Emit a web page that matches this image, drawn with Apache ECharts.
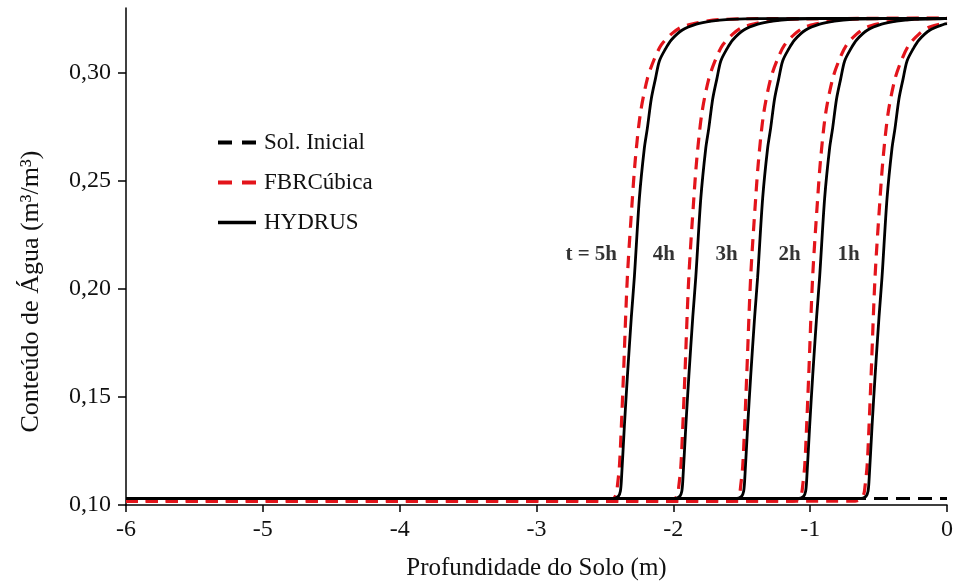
<!DOCTYPE html>
<html>
<head>
<meta charset="utf-8">
<script src="https://cdn.jsdelivr.net/npm/echarts@6/dist/echarts.min.js"></script>
<style>
html,body{margin:0;padding:0;background:#fff;}
#chart{width:956px;height:586px;}
</style>
</head>
<body>
<div id="chart"></div>
<script>
// ---- data ----
const xTicks = [-6, -5, -4, -3, -2, -1, 0];
const yTicks = [0.10, 0.15, 0.20, 0.25, 0.30];

const solInicialX = [-6, 0];
const solInicialY = [0.103, 0.103];

// HYDRUS (solid black)
const hydrusY = [0.103, 0.103, 0.1032, 0.1041, 0.1064, 0.1110, 0.1363, 0.1593, 0.1869, 0.2053, 0.2421, 0.2651, 0.2743, 0.2880, 0.2972, 0.3055, 0.3110, 0.3152, 0.3198, 0.3225, 0.3239, 0.3247, 0.3251, 0.3252];
const hydrus5hX = [-6, -2.453, -2.423, -2.401, -2.387, -2.380, -2.358, -2.336, -2.307, -2.285, -2.248, -2.212, -2.190, -2.161, -2.131, -2.102, -2.058, -2.015, -1.934, -1.832, -1.723, -1.591, -1.372, 0];
const hydrus4hX = [-6, -2.004, -1.974, -1.952, -1.938, -1.931, -1.909, -1.887, -1.858, -1.836, -1.799, -1.763, -1.741, -1.712, -1.682, -1.653, -1.609, -1.566, -1.485, -1.383, -1.274, -1.142, -0.923, 0];
const hydrus3hX = [-6, -1.552, -1.522, -1.500, -1.486, -1.479, -1.457, -1.435, -1.406, -1.384, -1.347, -1.311, -1.289, -1.260, -1.230, -1.201, -1.157, -1.114, -1.033, -0.931, -0.822, -0.690, -0.471, 0];
const hydrus2hX = [-6, -1.099, -1.069, -1.047, -1.033, -1.026, -1.004, -0.982, -0.953, -0.931, -0.894, -0.858, -0.836, -0.807, -0.777, -0.748, -0.704, -0.661, -0.580, -0.478, -0.369, -0.237, -0.018, 0];
const hydrus1hX = [-6, -0.643, -0.613, -0.591, -0.577, -0.570, -0.548, -0.526, -0.497, -0.475, -0.438, -0.402, -0.380, -0.351, -0.321, -0.292, -0.248, -0.205, -0.124, -0.022, 0];
const hydrus1hY = [0.103, 0.103, 0.1032, 0.1041, 0.1064, 0.1110, 0.1363, 0.1593, 0.1869, 0.2053, 0.2421, 0.2651, 0.2743, 0.2880, 0.2972, 0.3055, 0.3110, 0.3152, 0.3198, 0.3225, 0.3228];

// FBRCúbica (dashed red)
const fbrY = [0.1018, 0.1018, 0.1023, 0.1034, 0.1055, 0.1087, 0.1179, 0.1363, 0.1593, 0.2053, 0.2421, 0.2605, 0.2811, 0.2972, 0.3064, 0.3129, 0.3179, 0.3211, 0.3230, 0.3239, 0.3246, 0.3250, 0.3252];
const fbr5hX = [-6, -2.482, -2.453, -2.431, -2.416, -2.409, -2.394, -2.380, -2.365, -2.336, -2.299, -2.277, -2.241, -2.190, -2.139, -2.088, -2.015, -1.942, -1.832, -1.759, -1.664, -1.518, 0];
const fbr4hX = [-6, -2.033, -2.004, -1.982, -1.967, -1.960, -1.945, -1.931, -1.916, -1.887, -1.850, -1.828, -1.792, -1.741, -1.690, -1.639, -1.566, -1.493, -1.383, -1.310, -1.215, -1.069, 0];
const fbr3hX = [-6, -1.581, -1.552, -1.530, -1.515, -1.508, -1.493, -1.479, -1.464, -1.435, -1.398, -1.376, -1.340, -1.289, -1.238, -1.187, -1.114, -1.041, -0.931, -0.858, -0.763, -0.617, 0];
const fbr2hX = [-6, -1.128, -1.099, -1.077, -1.062, -1.055, -1.040, -1.026, -1.011, -0.982, -0.945, -0.923, -0.887, -0.836, -0.785, -0.734, -0.661, -0.588, -0.478, -0.405, -0.310, -0.164, 0];
const fbr1hX = [-6, -0.672, -0.643, -0.621, -0.606, -0.599, -0.584, -0.570, -0.555, -0.526, -0.489, -0.467, -0.431, -0.380, -0.329, -0.278, -0.205, -0.132, -0.022, 0];
const fbr1hY = [0.1018, 0.1018, 0.1023, 0.1034, 0.1055, 0.1087, 0.1179, 0.1363, 0.1593, 0.2053, 0.2421, 0.2605, 0.2811, 0.2972, 0.3064, 0.3129, 0.3179, 0.3211, 0.3230, 0.3236];

// time annotations
const timeLabels = ['t = 5h', '4h', '3h', '2h', '1h'];
const timeLabelX = [-2.60, -2.07, -1.61, -1.15, -0.72];
const timeLabelY = [0.216, 0.216, 0.216, 0.216, 0.216];

// ---- build ----
const zip = (xs, ys) => xs.map((x, i) => [x, ys[i]]);
const serif = '"Liberation Serif", "Times New Roman", serif';
const textColor = '#111';

const hydrusSets = [
  [hydrus5hX, hydrusY], [hydrus4hX, hydrusY], [hydrus3hX, hydrusY],
  [hydrus2hX, hydrusY], [hydrus1hX, hydrus1hY]
];
const fbrSets = [
  [fbr5hX, fbrY], [fbr4hX, fbrY], [fbr3hX, fbrY],
  [fbr2hX, fbrY], [fbr1hX, fbr1hY]
];

const series = [];
series.push({
  name: 'Sol. Inicial', type: 'line', data: zip(solInicialX, solInicialY),
  symbol: 'none', z: 1, itemStyle: { color: '#000' },
  lineStyle: { color: '#000', width: 3.2, type: [14, 8] }
});
fbrSets.forEach(s => series.push({
  name: 'FBRCúbica', type: 'line', data: zip(s[0], s[1]),
  symbol: 'none', smooth: 0.3, z: 2, itemStyle: { color: '#e3141b' },
  lineStyle: { color: '#e3141b', width: 3.2, type: [12, 8] }
}));
hydrusSets.forEach(s => series.push({
  name: 'HYDRUS', type: 'line', data: zip(s[0], s[1]),
  symbol: 'none', smooth: 0.3, z: 3, itemStyle: { color: '#000' },
  lineStyle: { color: '#000', width: 2.8, type: 'solid' }
}));
series.push({
  name: 'labels', type: 'scatter', symbolSize: 0, z: 5,
  data: timeLabels.map((t, i) => ({ value: [timeLabelX[i], timeLabelY[i]], name: t })),
  label: {
    show: true, position: 'inside', formatter: p => p.name,
    fontFamily: serif, fontWeight: 'bold', fontSize: 21, color: '#000'
  },
  silent: true
});

const chart = echarts.init(document.getElementById('chart'), null, { renderer: 'canvas' });
chart.setOption({
  animation: false,
  backgroundColor: '#fff',
  grid: { left: 126, right: 8, top: 8, bottom: 77 },
  legend: {
    data: [
      { name: 'Sol. Inicial' },
      { name: 'FBRCúbica' },
      { name: 'HYDRUS', lineStyle: { type: 'solid', width: 3.5 } }
    ],
    orient: 'vertical', left: 211, top: 126, itemGap: 17,
    itemWidth: 38, itemHeight: 14,
    itemStyle: { opacity: 0 },
    lineStyle: { width: 4, type: [14, 10] },
    textStyle: { fontFamily: serif, fontSize: 23, color: textColor, padding: [0, 0, 0, 3] }
  },
  xAxis: {
    type: 'value', min: -6, max: 0, interval: 1,
    name: 'Profundidade do Solo (m)', nameLocation: 'middle', nameGap: 51,
    nameTextStyle: { fontFamily: serif, fontSize: 25, color: textColor },
    axisLine: { onZero: false, lineStyle: { color: '#000', width: 1.5 } },
    axisTick: { show: true, length: 7, lineStyle: { color: '#000', width: 1.5 }, customValues: xTicks },
    axisLabel: { fontFamily: serif, fontSize: 24, color: textColor, margin: 13, customValues: xTicks,
      formatter: v => String(v) },
    splitLine: { show: false }
  },
  yAxis: {
    type: 'value', min: 0.10, max: 0.33, interval: 0.05,
    name: 'Conteúdo de Água (m³/m³)', nameLocation: 'middle', nameGap: 82,
    nameTextStyle: { fontFamily: serif, fontSize: 26, color: textColor, padding: [0, 70, 0, 0] },
    axisLine: { show: true, onZero: false, lineStyle: { color: '#000', width: 1.5 } },
    axisTick: { show: true, length: 8, lineStyle: { color: '#000', width: 1.5 }, customValues: yTicks },
    axisLabel: { fontFamily: serif, fontSize: 24, color: textColor, margin: 15, customValues: yTicks,
      formatter: v => v.toFixed(2).replace('.', ',') },
    splitLine: { show: false }
  },
  series: series
});
</script>
</body>
</html>
